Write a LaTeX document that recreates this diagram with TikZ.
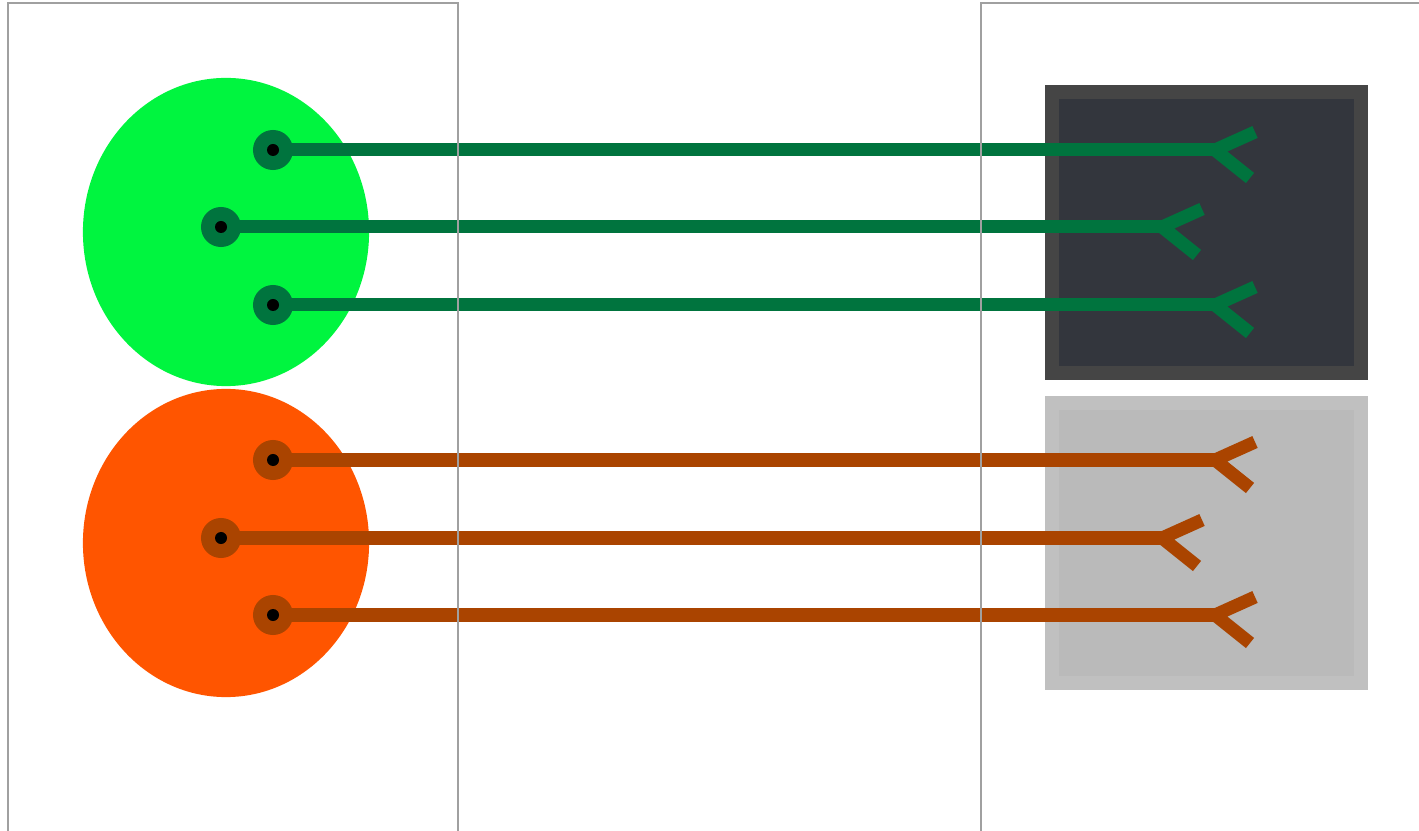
\documentclass[tikz,border=0pt]{standalone}
\usetikzlibrary{calc}
\definecolor{gfill}{HTML}{00F53F}
\definecolor{gline}{HTML}{00743E}
\definecolor{ofill}{HTML}{FF5500}
\definecolor{oline}{HTML}{AA4400}
\definecolor{darkout}{HTML}{454545}
\definecolor{darkin}{HTML}{33363D}
\definecolor{lightout}{HTML}{C0C0C0}
\definecolor{lightin}{HTML}{BABABA}
\definecolor{panelc}{HTML}{A0A0A0}
\tikzset{
  blob/.style={ellipse, minimum width=2.86cm, minimum height=3.08cm, inner sep=0pt, draw=none},
  pin/.style={circle, minimum size=0.4cm, inner sep=0pt},
  wire/.style={line width=0.13cm},
  fork/.style={line width=0.13cm, line cap=butt},
  panel/.style={draw=panelc, line width=0.6pt},
}
\usetikzlibrary{shapes.geometric}
\begin{document}
\begin{tikzpicture}[x=0.01cm,y=-0.01cm]
\useasboundingbox (0,0) rectangle (1419,831);
% boxes
\node[draw=none, fill=darkout, minimum width=3.23cm, minimum height=2.95cm, inner sep=0pt] (dbox) at (1206.5,232.5) {};
\node[draw=none, fill=darkin, minimum width=2.95cm, minimum height=2.67cm, inner sep=0pt] (dboxi) at (1206.5,232.5) {};
\node[draw=none, fill=lightout, minimum width=3.23cm, minimum height=2.94cm, inner sep=0pt] (lbox) at (1206.5,543) {};
\node[draw=none, fill=lightin, minimum width=2.95cm, minimum height=2.66cm, inner sep=0pt] (lboxi) at (1206.5,543) {};
% blobs
\node[blob, fill=gfill] (gb) at (226,232) {};
\node[blob, fill=ofill] (ob) at (226,543) {};
% pins
\foreach \n/\x/\y/\c in {g1/273/150/gline, g2/221/227/gline, g3/273/305/gline,
                         o1/273/460/oline, o2/221/538/oline, o3/273/615/oline}{
  \node[pin, fill=\c] (\n) at (\x,\y) {};
}
% fork points
\foreach \n/\x/\y in {fg1/1215/150, fg2/1162/227, fg3/1215/305,
                      fo1/1215/460, fo2/1162/538, fo3/1215/615}{
  \coordinate (\n) at (\x,\y);
}
% wires
\foreach \a/\b/\c in {g1/fg1/gline, g2/fg2/gline, g3/fg3/gline,
                      o1/fo1/oline, o2/fo2/oline, o3/fo3/oline}{
  \draw[wire, draw=\c] (\a.center) -- (\b);
  \draw[fork, draw=\c] ($(\b)+(40,-18)$) -- (\b) -- ($(\b)+(35,28)$);
  \fill[black] (\a.center) circle[radius=0.06cm];
}
% panels
\draw[panel] (8,831) -- (8,3) -- (458,3) -- (458,831);
\draw[panel] (981,831) -- (981,3) -- (1425,3);
\end{tikzpicture}
\end{document}
